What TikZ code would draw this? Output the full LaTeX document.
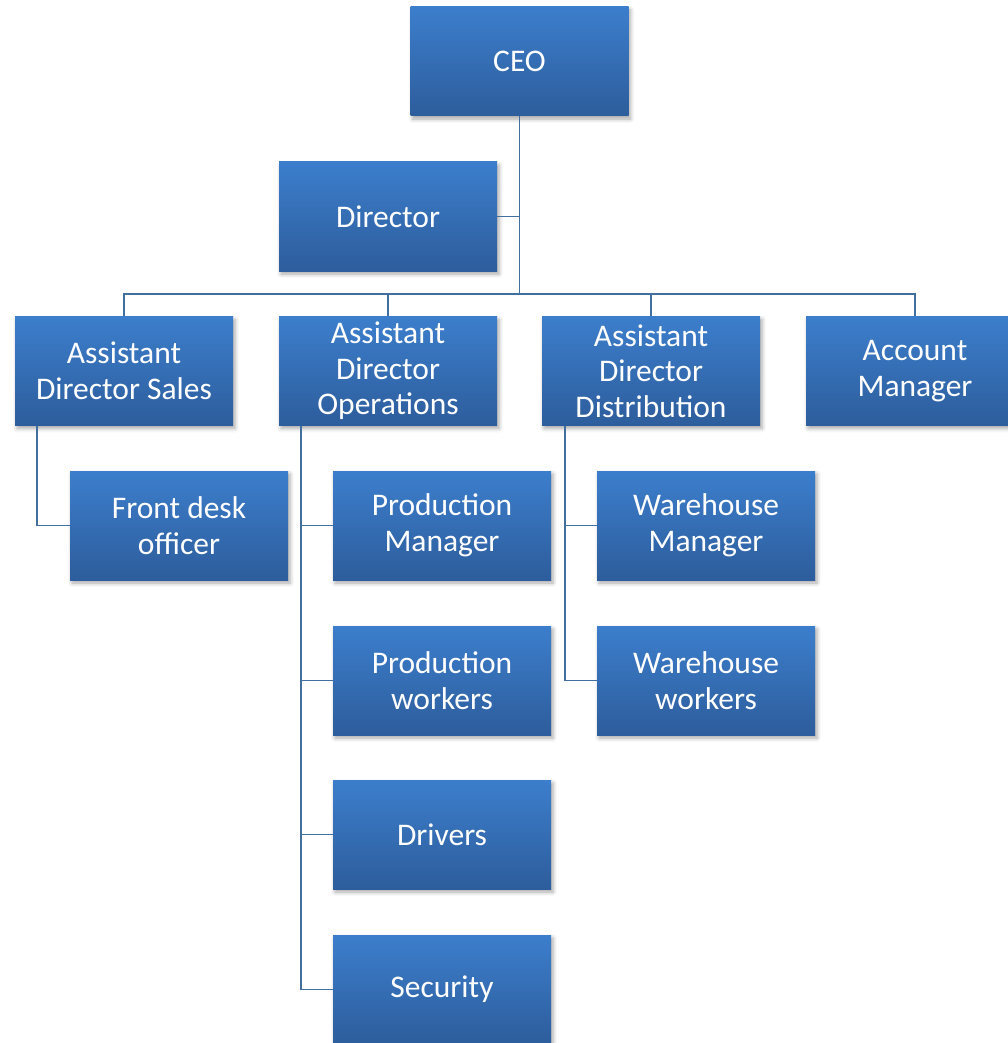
\documentclass[tikz,border=0pt]{standalone}
\usepackage{fontspec}
\setmainfont{Carlito}
\usetikzlibrary{shadows.blur}
\definecolor{boxtop}{RGB}{60,126,204}
\definecolor{boxbot}{RGB}{45,93,156}
\definecolor{linkcol}{RGB}{65,112,160}
\begin{document}
\begin{tikzpicture}[x=1pt,y=-1pt,
  orgbox/.style={rectangle, minimum width=218pt, minimum height=109pt,
    top color=boxtop, bottom color=boxbot, draw=none,
    text=white, align=center, inner sep=0pt,
    font=\fontsize{31.5}{35.5}\selectfont,
    blur shadow={shadow xshift=2pt, shadow yshift=-3pt, shadow blur radius=4pt, shadow opacity=35}},
  link/.style={draw=linkcol, line width=1.8pt}]
\useasboundingbox (0,0) rectangle (1008,1043);
\clip (0,0) rectangle (1008,1043);
% boxes (centres in pixel units)
\node[orgbox] (ceo) at (519.5,61.5) {CEO};
\node[orgbox] (dir) at (388,216.5) {Director};
\node[orgbox] (ads) at (124,371) {Assistant\\Director Sales};
\node[orgbox] (ado) at (388,371) {Assistant\\Director\\Operations};
\node[orgbox] (add) at (651,371) {Assistant\\Director\\Distribution};
\node[orgbox] (am)  at (915,371) {Account\\Manager};
\node[orgbox] (fdo) at (179,525.5) {Front desk\\officer};
\node[orgbox] (pm)  at (442,525.5) {Production\\Manager};
\node[orgbox] (wm)  at (706,525.5) {Warehouse\\Manager};
\node[orgbox] (pw)  at (442,680.5) {Production\\workers};
\node[orgbox] (ww)  at (706,680.5) {Warehouse\\workers};
\node[orgbox] (drv) at (442,834.5) {Drivers};
\node[orgbox] (sec) at (442,989.5) {Security};
% connectors
\coordinate (bus) at (519.5,294);
\draw[link] (ceo.south) -- (bus);
\draw[link] (dir.east) -- (dir.east -| bus);
\draw[link] (ads.north) |- (bus) -| (am.north);
\draw[link] (ado.north) -- (ado.north |- bus);
\draw[link] (add.north) -- (add.north |- bus);
\coordinate (adsr) at (37,0);
\draw[link] (ads.south -| adsr) |- (fdo.west);
\coordinate (ador) at (301,0);
\draw[link] (ado.south -| ador) |- (sec.west);
\draw[link] (pm.west -| ador) -- (pm.west);
\draw[link] (pw.west -| ador) -- (pw.west);
\draw[link] (drv.west -| ador) -- (drv.west);
\coordinate (addr) at (565,0);
\draw[link] (add.south -| addr) |- (ww.west);
\draw[link] (wm.west -| addr) -- (wm.west);
\end{tikzpicture}
\end{document}
